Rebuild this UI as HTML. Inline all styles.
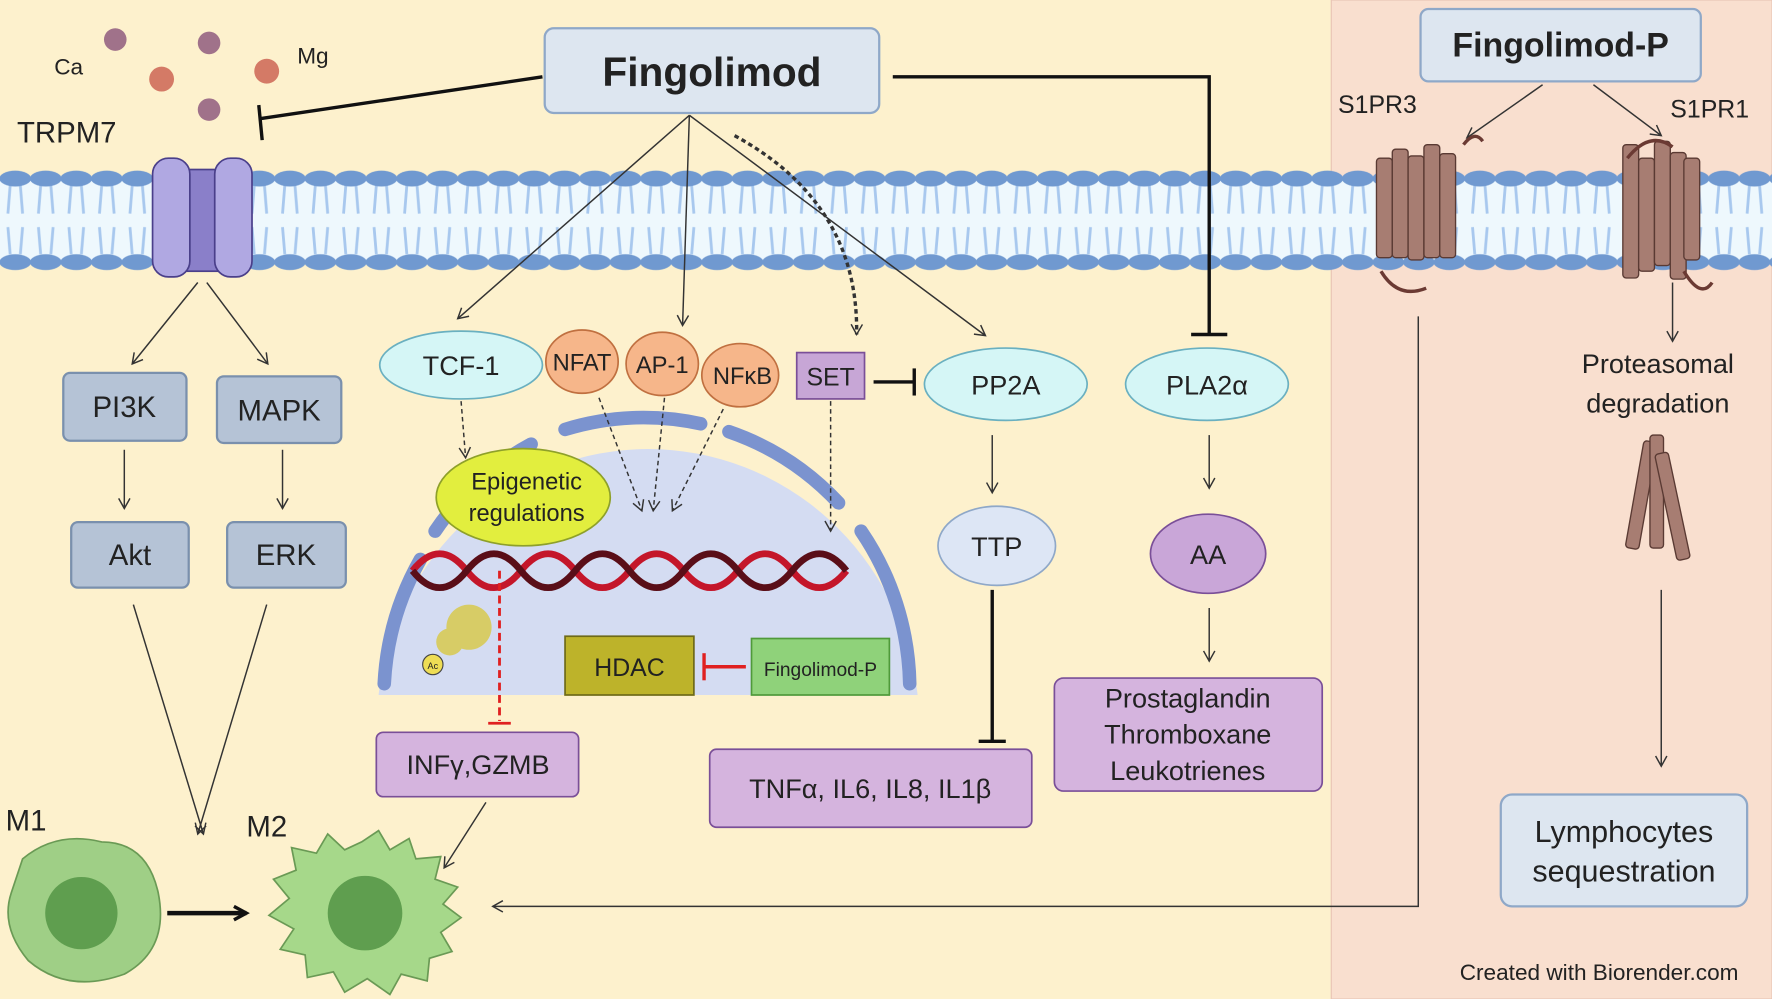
<!DOCTYPE html>
<html><head><meta charset="utf-8"><style>
html,body{margin:0;padding:0;width:1772px;height:999px;overflow:hidden;background:#fdf1cd}
svg{display:block}
text{font-family:"Liberation Sans",sans-serif;fill:#222}
</style></head><body>
<svg width="1772" height="999" viewBox="0 0 1568 884" preserveAspectRatio="none" xmlns="http://www.w3.org/2000/svg">
<defs>
<pattern id="lip" x="0" y="149" width="27" height="92" patternUnits="userSpaceOnUse">
<path d="M9,15 L7,40 M18,15 L20,40 M9,76 L7,52 M18,76 L20,52" stroke="#a8c8ee" stroke-width="2.5" fill="none"/>
<ellipse cx="13.5" cy="9" rx="14" ry="7" fill="#7099d0"/>
<ellipse cx="13.5" cy="83" rx="14" ry="7" fill="#7099d0"/>
</pattern>
<marker id="ar" markerWidth="12" markerHeight="12" refX="10" refY="6" orient="auto" markerUnits="userSpaceOnUse"><path d="M1,1 L10,6 L1,11" fill="none" stroke="#333" stroke-width="1.3"/></marker>
<marker id="arb" markerWidth="16" markerHeight="16" refX="13" refY="8" orient="auto" markerUnits="userSpaceOnUse"><path d="M2,2 L13,8 L2,14" fill="none" stroke="#111" stroke-width="3"/></marker>
</defs>
<rect x="0" y="0" width="1178" height="884" fill="#fdf1cd"/>
<rect x="1178" y="0" width="390" height="884" fill="#f9dfcf" stroke="#e8c4b4"/>
<!-- membrane -->
<rect x="0" y="158" width="1568" height="74" fill="#eef8fd"/>
<rect x="0" y="149" width="1568" height="92" fill="url(#lip)"/>
<!-- ions -->
<circle cx="102" cy="35" r="10" fill="#a0728a"/><circle cx="185" cy="38" r="10" fill="#a0728a"/>
<circle cx="143" cy="70" r="11" fill="#d47a66"/><circle cx="236" cy="63" r="11" fill="#d47a66"/>
<circle cx="185" cy="97" r="10" fill="#a0728a"/>
<text x="48" y="66" font-size="20">Ca</text><text x="263" y="56" font-size="20">Mg</text>
<text x="15" y="126" font-size="26">TRPM7</text>
<!-- channel -->
<rect x="160" y="150" width="38" height="90" fill="#8a7fc9" stroke="#4a3f8a" stroke-width="1.5"/>
<rect x="135" y="140" width="33" height="105" rx="14" fill="#b0a8e2" stroke="#4a3f8a" stroke-width="1.5"/>
<rect x="190" y="140" width="33" height="105" rx="14" fill="#b0a8e2" stroke="#4a3f8a" stroke-width="1.5"/>
<!-- Fingolimod -->
<rect x="482" y="25" width="296" height="75" rx="8" fill="#dde6f0" stroke="#8fa8c8" stroke-width="2"/>
<text x="630" y="76" font-size="36" font-weight="bold" text-anchor="middle">Fingolimod</text>
<line x1="480" y1="68" x2="230" y2="105" stroke="#111" stroke-width="3"/>
<line x1="229" y1="93" x2="232" y2="124" stroke="#111" stroke-width="3"/>
<path d="M790,68 L1070,68 L1070,296" fill="none" stroke="#111" stroke-width="3"/>
<line x1="1054" y1="296" x2="1086" y2="296" stroke="#111" stroke-width="3"/>
<g stroke="#333" stroke-width="1.3" fill="none" marker-end="url(#ar)">
<line x1="610" y1="102" x2="405" y2="282"/>
<line x1="610" y1="102" x2="604" y2="288"/>
<line x1="610" y1="102" x2="872" y2="297"/>
<path d="M650,120 Q760,180 758,296" stroke-dasharray="4,3" stroke-width="3"/>
<line x1="175" y1="250" x2="117" y2="322"/><line x1="183" y1="250" x2="237" y2="322"/>
<line x1="110" y1="398" x2="110" y2="450"/><line x1="250" y1="398" x2="250" y2="450"/>
<line x1="118" y1="535" x2="180" y2="738"/><line x1="236" y1="535" x2="175" y2="738"/>
<line x1="430" y1="710" x2="393" y2="768"/>
<line x1="878" y1="385" x2="878" y2="436"/>
<line x1="1070" y1="385" x2="1070" y2="432"/>
<line x1="1070" y1="538" x2="1070" y2="585"/>
<line x1="1365" y1="75" x2="1298" y2="122"/><line x1="1410" y1="75" x2="1470" y2="120"/>
<line x1="1480" y1="250" x2="1480" y2="302"/>
<line x1="1470" y1="522" x2="1470" y2="678"/>
<path d="M1255,280 L1255,802 L436,802"/>
</g>
<!-- boxes left -->
<g fill="#b5c3d6" stroke="#7a90ad" stroke-width="2">
<rect x="56" y="330" width="109" height="60" rx="6"/><rect x="192" y="333" width="110" height="59" rx="6"/>
<rect x="63" y="462" width="104" height="58" rx="6"/><rect x="201" y="462" width="105" height="58" rx="6"/>
</g>
<g font-size="26" text-anchor="middle">
<text x="110" y="369">PI3K</text><text x="247" y="372">MAPK</text>
<text x="115" y="500">Akt</text><text x="253" y="500">ERK</text></g>
<!-- nucleus -->
<path d="M335,615 A240,245 0 0 1 812,615 Z" fill="#d4dcf2"/>
<g fill="none" stroke="#7b93cf" stroke-width="12" stroke-linecap="round">
<path d="M340,605 A240,245 0 0 1 372,495"/>
<path d="M385,470 A240,245 0 0 1 470,393"/>
<path d="M500,380 A240,245 0 0 1 620,375"/>
<path d="M645,382 A240,245 0 0 1 742,445"/>
<path d="M762,470 A240,245 0 0 1 805,605"/>
</g>
<!-- DNA -->
<path d="M365,505 q24,-30 48,0 t48,0 t48,0 t48,0 t48,0 t48,0 t48,0 t48,0" fill="none" stroke="#c4162a" stroke-width="6"/>
<path d="M365,505 q24,30 48,0 t48,0 t48,0 t48,0 t48,0 t48,0 t48,0 t48,0" fill="none" stroke="#5a0e18" stroke-width="6"/>
<circle cx="415" cy="555" r="20" fill="#d7cc66"/><circle cx="398" cy="568" r="12" fill="#d7cc66"/>
<circle cx="383" cy="588" r="9" fill="#eedd55" stroke="#444"/><text x="383" y="592" font-size="8" text-anchor="middle">Ac</text>
<line x1="442" y1="505" x2="442" y2="638" stroke="#e02020" stroke-width="2.5" stroke-dasharray="7,4"/>
<line x1="432" y1="640" x2="452" y2="640" stroke="#e02020" stroke-width="2.5"/>
<g stroke="#333" stroke-width="1.3" fill="none" stroke-dasharray="4,3" marker-end="url(#ar)">
<line x1="408" y1="355" x2="412" y2="405"/><line x1="530" y1="352" x2="568" y2="452"/>
<line x1="588" y1="352" x2="578" y2="452"/><line x1="640" y1="362" x2="595" y2="452"/>
<line x1="735" y1="355" x2="735" y2="470"/></g>
<ellipse cx="463" cy="440" rx="77" ry="43" fill="#e2ee3e" stroke="#8ea02a" stroke-width="1.5"/>
<text x="466" y="433" font-size="21" text-anchor="middle">Epigenetic</text><text x="466" y="461" font-size="21" text-anchor="middle">regulations</text>
<rect x="500" y="563" width="114" height="52" fill="#bdb32a" stroke="#6e6a18" stroke-width="1.5"/>
<text x="557" y="598" font-size="22" text-anchor="middle">HDAC</text>
<rect x="665" y="565" width="122" height="50" fill="#8fd27a" stroke="#4f9a3a" stroke-width="1.5"/>
<text x="726" y="598" font-size="17" text-anchor="middle">Fingolimod-P</text>
<line x1="660" y1="590" x2="624" y2="590" stroke="#e02020" stroke-width="3"/><line x1="623" y1="578" x2="623" y2="602" stroke="#e02020" stroke-width="3"/>
<!-- TFs -->
<ellipse cx="408" cy="323" rx="72" ry="30" fill="#d5f6f6" stroke="#6ab0c0" stroke-width="1.5"/>
<text x="408" y="332" font-size="24" text-anchor="middle">TCF-1</text>
<g fill="#f6b68a" stroke="#c07040" stroke-width="1.5">
<ellipse cx="515" cy="320" rx="32" ry="28"/><ellipse cx="586" cy="322" rx="32" ry="28"/><ellipse cx="655" cy="332" rx="34" ry="28"/></g>
<text x="515" y="328" font-size="21" text-anchor="middle">NFAT</text><text x="586" y="330" font-size="21" text-anchor="middle">AP-1</text><text x="657" y="340" font-size="21" text-anchor="middle">NFκB</text>
<rect x="705" y="312" width="60" height="41" fill="#c7a6d6" stroke="#7a4f98" stroke-width="1.5"/>
<text x="735" y="341" font-size="22" text-anchor="middle">SET</text>
<line x1="773" y1="338" x2="808" y2="338" stroke="#111" stroke-width="3"/><line x1="809" y1="326" x2="809" y2="350" stroke="#111" stroke-width="3"/>
<ellipse cx="890" cy="340" rx="72" ry="32" fill="#d5f6f6" stroke="#6ab0c0" stroke-width="1.5"/>
<text x="890" y="349" font-size="24" text-anchor="middle">PP2A</text>
<ellipse cx="1068" cy="340" rx="72" ry="32" fill="#d5f6f6" stroke="#6ab0c0" stroke-width="1.5"/>
<text x="1068" y="349" font-size="24" text-anchor="middle">PLA2α</text>
<ellipse cx="882" cy="483" rx="52" ry="35" fill="#dde6f5" stroke="#8fa8c8" stroke-width="1.5"/>
<text x="882" y="492" font-size="24" text-anchor="middle">TTP</text>
<line x1="878" y1="522" x2="878" y2="655" stroke="#111" stroke-width="3"/><line x1="866" y1="656" x2="890" y2="656" stroke="#111" stroke-width="3"/>
<ellipse cx="1069" cy="490" rx="51" ry="35" fill="#c9a6d8" stroke="#7a4f98" stroke-width="1.5"/>
<text x="1069" y="499" font-size="24" text-anchor="middle">AA</text>
<g fill="#d5b4de" stroke="#7a4f98" stroke-width="1.5">
<rect x="333" y="648" width="179" height="57" rx="6"/><rect x="628" y="663" width="285" height="69" rx="6"/><rect x="933" y="600" width="237" height="100" rx="8"/></g>
<text x="423" y="685" font-size="24" text-anchor="middle">INFγ,GZMB</text>
<text x="770" y="706" font-size="24" text-anchor="middle">TNFα, IL6, IL8, IL1β</text>
<g font-size="24" text-anchor="middle"><text x="1051" y="626">Prostaglandin</text><text x="1051" y="658">Thromboxane</text><text x="1051" y="690">Leukotrienes</text></g>
<!-- right panel -->
<rect x="1257" y="8" width="248" height="64" rx="7" fill="#dde6f0" stroke="#8fa8c8" stroke-width="2"/>
<text x="1381" y="50" font-size="30" font-weight="bold" text-anchor="middle">Fingolimod-P</text>
<text x="1184" y="100" font-size="22">S1PR3</text><text x="1478" y="104" font-size="22">S1PR1</text>
<g fill="#a77d72" stroke="#5a3a33" stroke-width="1.2">
<rect x="1218" y="140" width="14" height="88" rx="3"/><rect x="1232" y="132" width="14" height="96" rx="3"/><rect x="1246" y="138" width="14" height="92" rx="3"/><rect x="1260" y="128" width="14" height="100" rx="3"/><rect x="1274" y="136" width="14" height="92" rx="3"/>
<rect x="1436" y="128" width="14" height="118" rx="3"/><rect x="1450" y="140" width="14" height="100" rx="3"/><rect x="1464" y="125" width="14" height="110" rx="3"/><rect x="1478" y="135" width="14" height="112" rx="3"/><rect x="1490" y="140" width="14" height="90" rx="3"/>
<rect x="1446" y="390" width="12" height="96" rx="3" transform="rotate(10 1452 440)"/><rect x="1460" y="385" width="12" height="100" rx="3"/><rect x="1474" y="400" width="12" height="96" rx="3" transform="rotate(-12 1480 448)"/></g>
<path d="M1295,128 Q1305,115 1312,125 M1222,240 q15,25 40,15 M1440,140 q20,-25 40,-10 M1490,240 q15,25 25,10" fill="none" stroke="#6b3a33" stroke-width="3"/>
<text x="1467" y="330" font-size="24" text-anchor="middle">Proteasomal</text><text x="1467" y="365" font-size="24" text-anchor="middle">degradation</text>
<rect x="1328" y="703" width="218" height="99" rx="10" fill="#dde6f0" stroke="#8fa8c8" stroke-width="2"/>
<text x="1437" y="745" font-size="27" text-anchor="middle">Lymphocytes</text><text x="1437" y="780" font-size="27" text-anchor="middle">sequestration</text>
<text x="1415" y="867" font-size="20" text-anchor="middle">Created with  Biorender.com</text>
<!-- cells -->
<text x="5" y="735" font-size="26">M1</text><text x="218" y="740" font-size="26">M2</text>
<path d="M20,760 Q50,735 90,745 Q130,745 140,790 Q150,840 110,862 Q60,880 25,850 Q0,820 10,790 Z" fill="#9fcf86" stroke="#6a9a55" stroke-width="1.5"/>
<circle cx="72" cy="808" r="32" fill="#5f9e4f"/>
<polygon points="320,745 335,735 345,752 362,742 368,760 390,758 385,778 405,785 392,800 408,812 390,825 400,842 380,848 378,868 355,862 345,880 325,866 305,878 295,860 272,865 270,845 248,840 260,822 238,810 256,795 242,778 262,770 258,750 280,755 290,738 305,752" fill="#a6d88a" stroke="#6a9a55" stroke-width="1.5"/>
<circle cx="323" cy="808" r="33" fill="#5f9e4f"/>
<line x1="148" y1="808" x2="218" y2="808" stroke="#111" stroke-width="4" marker-end="url(#arb)"/>
</svg>
</body></html>
